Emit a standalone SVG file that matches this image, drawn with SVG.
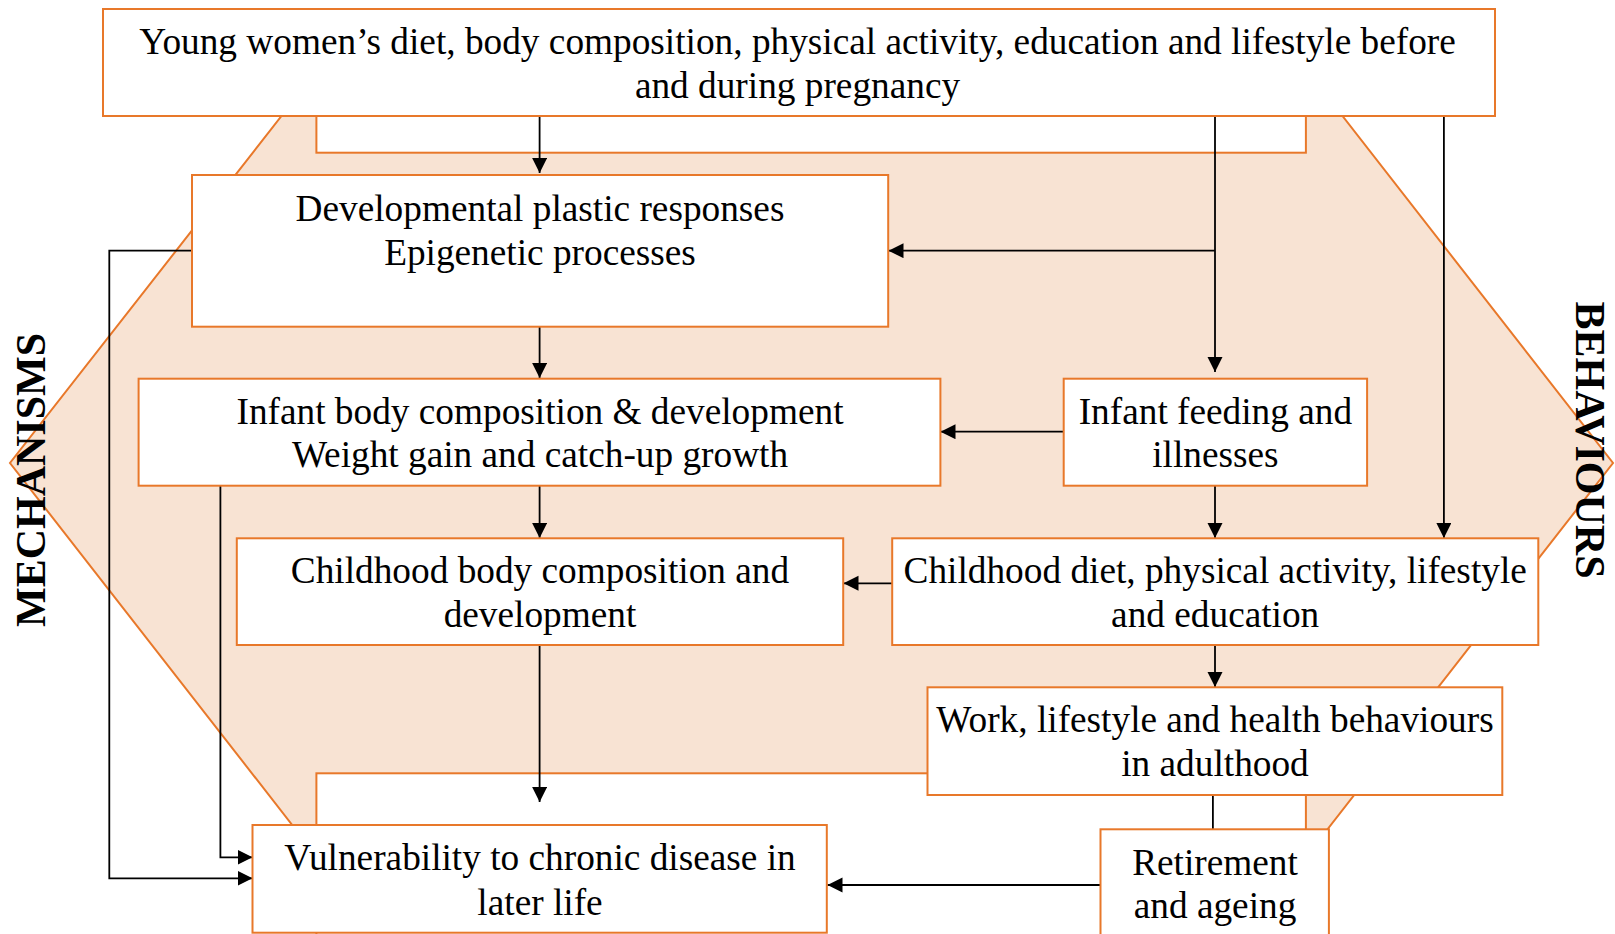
<svg xmlns="http://www.w3.org/2000/svg" width="1615" height="934" viewBox="0 0 1615 934">
<style>
.bg{fill:#F8E3D3;stroke:#E8782A;stroke-width:2}
.hole{fill:#FFFFFF;stroke:#E8782A;stroke-width:2}
.box{fill:#FFFFFF;stroke:#E8782A;stroke-width:2}
.t{font-family:"Liberation Serif","Times New Roman",serif;font-size:37.3px;fill:#000;text-anchor:middle}
.side{font-family:"Liberation Serif","Times New Roman",serif;font-size:42px;font-weight:bold;fill:#000;text-anchor:middle}
.c{fill:none;stroke:#000;stroke-width:1.8}
</style>
<defs>
<marker id="ah" markerUnits="userSpaceOnUse" markerWidth="16" markerHeight="16" refX="15" refY="7.5" orient="auto">
<path d="M0,0 L15,7.5 L0,15 z" fill="#000"/>
</marker>
</defs>
<g id="background">
<polygon class="bg" points="294,100 1330,100 1613,463 1323,835 300,835 10,463"/>
<rect class="hole" x="316.4" y="95" width="989.5" height="57.7"/>
<rect class="hole" x="316.4" y="773.3" width="989.5" height="200"/>
</g>
<g id="connectors">
<line class="c" x1="539.6" y1="116" x2="539.6" y2="173" marker-end="url(#ah)"/>
<line class="c" x1="539.6" y1="326.7" x2="539.6" y2="378" marker-end="url(#ah)"/>
<line class="c" x1="539.6" y1="485.7" x2="539.6" y2="538" marker-end="url(#ah)"/>
<line class="c" x1="539.6" y1="645" x2="539.6" y2="802" marker-end="url(#ah)"/>
<line class="c" x1="1215" y1="116" x2="1215" y2="372" marker-end="url(#ah)"/>
<line class="c" x1="1215" y1="250.7" x2="888.5" y2="250.7" marker-end="url(#ah)"/>
<line class="c" x1="1443.9" y1="116" x2="1443.9" y2="538" marker-end="url(#ah)"/>
<line class="c" x1="1063.7" y1="431.7" x2="940.5" y2="431.7" marker-end="url(#ah)"/>
<line class="c" x1="1215" y1="485.7" x2="1215" y2="538" marker-end="url(#ah)"/>
<line class="c" x1="892.2" y1="583.3" x2="843.5" y2="583.3" marker-end="url(#ah)"/>
<line class="c" x1="1215" y1="645" x2="1215" y2="687" marker-end="url(#ah)"/>
<line class="c" x1="1212.9" y1="795" x2="1212.9" y2="829.3"/>
<line class="c" x1="1100.5" y1="885" x2="827.5" y2="885" marker-end="url(#ah)"/>
<polyline class="c" points="192,250.7 109.3,250.7 109.3,878.3 252.5,878.3" marker-end="url(#ah)"/>
<polyline class="c" points="220.4,485.7 220.4,857.3 252.5,857.3" marker-end="url(#ah)"/>
</g>
<g id="n-top">
<rect class="box" x="103" y="9" width="1392" height="107"/>
<text class="t" x="797.5" y="54">Young women’s diet, body composition, physical activity, education and lifestyle before</text>
<text class="t" x="797.5" y="98.3">and during pregnancy</text>
</g>
<g id="n-dev">
<rect class="box" x="192" y="175" width="696.2" height="151.7"/>
<text class="t" x="540" y="220.8">Developmental plastic responses</text>
<text class="t" x="540" y="264.8">Epigenetic processes</text>
</g>
<g id="n-infant-body">
<rect class="box" x="138.6" y="378.7" width="801.8" height="107"/>
<text class="t" x="540" y="423.8">Infant body composition &amp; development</text>
<text class="t" x="540" y="467.2">Weight gain and catch-up growth</text>
</g>
<g id="n-infant-feeding">
<rect class="box" x="1063.7" y="378.7" width="303.4" height="107"/>
<text class="t" x="1215.4" y="423.8">Infant feeding and</text>
<text class="t" x="1215.4" y="467.2">illnesses</text>
</g>
<g id="n-child-body">
<rect class="box" x="236.8" y="538.3" width="606.4" height="106.7"/>
<text class="t" x="540" y="583.2">Childhood body composition and</text>
<text class="t" x="540" y="626.5">development</text>
</g>
<g id="n-child-diet">
<rect class="box" x="892.2" y="538.3" width="646.1" height="106.7"/>
<text class="t" x="1215.2" y="583.2">Childhood diet, physical activity, lifestyle</text>
<text class="t" x="1215.2" y="626.5">and education</text>
</g>
<g id="n-work">
<rect class="box" x="927.5" y="687.3" width="574.8" height="107.7"/>
<text class="t" x="1215" y="731.5">Work, lifestyle and health behaviours</text>
<text class="t" x="1215" y="775.8">in adulthood</text>
</g>
<g id="n-vulnerability">
<rect class="box" x="252.5" y="825" width="574.3" height="107.7"/>
<text class="t" x="540" y="869.8">Vulnerability to chronic disease in</text>
<text class="t" x="540" y="914.8">later life</text>
</g>
<g id="n-retirement">
<rect class="box" x="1100.5" y="829.3" width="228.4" height="130"/>
<text class="t" x="1215" y="874.8">Retirement</text>
<text class="t" x="1215" y="918.2">and ageing</text>
</g>
<g id="labels">
<text class="side" transform="translate(44.5,480) rotate(-90)">MECHANISMS</text>
<text class="side" transform="translate(1576,440) rotate(90)">BEHAVIOURS</text>
</g>
</svg>
